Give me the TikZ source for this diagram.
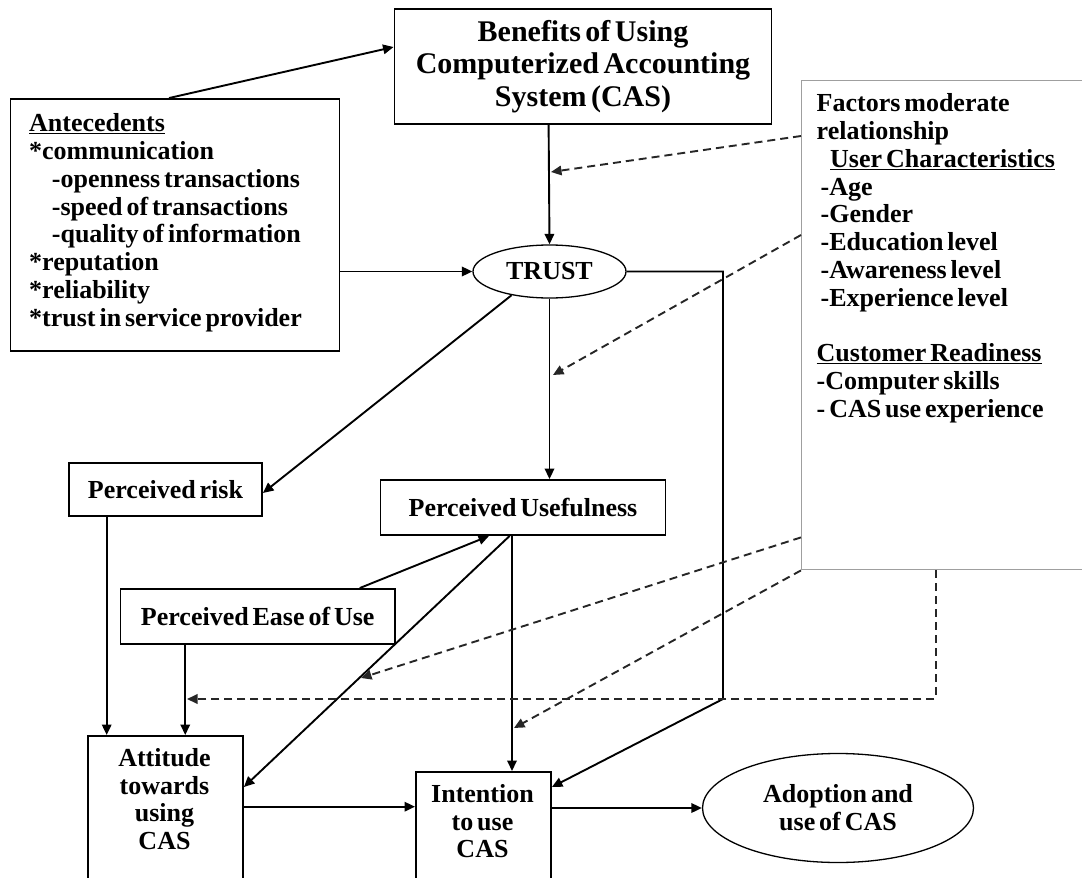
\documentclass[tikz,border=0pt]{standalone}
\usepackage{fontspec}
\setmainfont{Liberation Serif}[WordSpace=0.6]
\usetikzlibrary{arrows.meta,shapes.geometric,calc}
\begin{document}
\begin{tikzpicture}[x=1pt,y=-1pt,
  box/.style={draw, line width=1.9pt, inner sep=0pt, align=center,
    font=\bfseries\fontsize{26}{27.8}\selectfont},
  ell/.style={ellipse, draw, line width=1.3pt, inner sep=0pt, align=center,
    font=\bfseries\fontsize{26}{27.8}\selectfont},
  txt/.style={inner sep=0pt, align=left, font=\bfseries\fontsize{26}{27.8}\selectfont},
  ctxt/.style={inner sep=0pt, align=center, font=\bfseries\fontsize{26}{27.6}\selectfont},
  arr/.style={line width=1.9pt, -{Triangle[length=10.5pt,width=9.5pt]}},
  darr/.style={arr, draw=black!85, dash pattern=on 8pt off 5pt}]
\useasboundingbox (0,0) rectangle (1082,878);
\clip (0,0) rectangle (1082,878);

% boxes
\node[box, minimum width=377pt, minimum height=115pt,
  font=\bfseries\fontsize{30}{32.5}\selectfont] (ben) at (583,66.5)
  {Benefits of Using\\Computerized Accounting\\System (CAS)};
\node[box, minimum width=329pt, minimum height=252pt] (ante) at (175,225) {};
\node[txt, anchor=north west] (antetxt) at (29,113.5)
  {\underline{Antecedents}\\
   *communication\\
   \hspace*{22.7pt}-openness transactions\\
   \hspace*{22.7pt}-speed of transactions\\
   \hspace*{22.7pt}-quality of information\\
   *reputation\\
   *reliability\\
   *trust in service provider};
\node[box, draw=gray!75, line width=1.4pt, minimum width=300pt, minimum height=489pt,
  anchor=north west] (fac) at (801,80) {};
\node[txt, anchor=north west] (factxt) at (816.5,93.5)
  {Factors moderate\\
   relationship\\
   \hspace*{13.5pt}\underline{User Characteristics}\\
   \hspace*{4pt}-Age\\
   \hspace*{4pt}-Gender\\
   \hspace*{4pt}-Education level\\
   \hspace*{4pt}-Awareness level\\
   \hspace*{4pt}-Experience level\\[27.8pt]
   \underline{Customer Readiness}\\
   -Computer skills\\
   - CAS use experience};

\node[ell, minimum width=153pt, minimum height=53pt] (trust) at (549.5,271.5) {TRUST};
\node[box, minimum width=193pt, minimum height=53pt] (risk) at (165.5,489.5) {Perceived risk};
\node[box, minimum width=285pt, minimum height=55pt] (pu) at (523,507.5) {Perceived Usefulness};
\node[box, minimum width=274.5pt, minimum height=55pt] (peou) at (257.75,616.5) {Perceived Ease of Use};
\node[box, minimum width=155pt, minimum height=170pt, anchor=north west] (att) at (87,735) {};
\node[ctxt, anchor=north] (atttxt) at (164.5,748.4) {Attitude\\towards\\using\\CAS};
\node[box, minimum width=135pt, minimum height=150pt, anchor=north west] (int) at (415,771) {};
\node[ctxt, anchor=north] (inttxt) at (482.5,784.4) {Intention\\to use\\CAS};
\node[ell, minimum width=271pt, minimum height=109pt] (adopt) at (838,808) {Adoption and\\use of CAS};

% solid connectors
\draw[arr] ([xshift=-6]ante.north) -- ([yshift=19.5]ben.west);
\draw[arr] ([xshift=-34.4]ben.south) -- (trust.north);
\draw[arr] (ante.east |- trust.west) -- (trust.west);
\draw[arr] (trust.212) -- ([yshift=-3.5]risk.east);
\draw[arr] (trust.south) -- (trust.south |- pu.north);
\coordinate (c1) at (723,699);
\draw[arr] (trust.east) -| (c1) -- ([yshift=-16]int.north east);
\draw[arr] ([xshift=-11]pu.south) -- ([xshift=-11]pu.south |- int.north);
\draw[arr] ([xshift=-13.4]pu.south) -- ([yshift=-52]att.north east);
\draw[arr] ([xshift=102]peou.north) -- ([xshift=-34]pu.south);
\draw[arr] ([xshift=-58.8]risk.south) -- ([xshift=-58.8]risk.south |- att.north);
\draw[arr] ([xshift=-72.5]peou.south) -- ([xshift=-72.5]peou.south |- att.north);
\draw[arr] ([yshift=-71.7]att.north east) -- ([yshift=-71.7]att.north east -| int.west);
\draw[arr] (adopt.west -| int.east) -- (adopt.west);

% dashed moderators
\coordinate (d1) at (551,172);
\draw[darr] ([yshift=-56]fac.north west) -- (d1);
\coordinate (d2) at (553,375);
\draw[darr] ([yshift=-155]fac.north west) -- (d2);
\coordinate (d3) at (361,678);
\draw[darr] ([yshift=33]fac.south west) -- (d3);
\coordinate (d4) at (514,728);
\draw[darr] (fac.south west) -- (d4);
\coordinate (d5) at (187,699);
\draw[darr] ([xshift=134.8]fac.south west) |- (d5);
\end{tikzpicture}
\end{document}
